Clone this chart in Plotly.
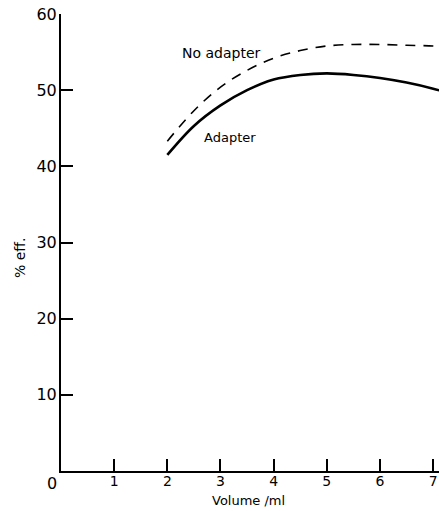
import plotly.graph_objects as go

vol_adapter = [2.0, 2.5, 3.0, 3.5, 4.0, 4.5, 5.0, 5.5, 6.0, 6.5, 7.0, 7.2]
eff_adapter = [41.5, 45.3, 48.0, 50.0, 51.4, 52.0, 52.2, 52.0, 51.6, 51.0, 50.2, 49.8]

vol_no_adapter = [2.0, 2.5, 3.0, 3.5, 4.0, 4.5, 5.0, 5.5, 6.0, 6.5, 7.0, 7.2]
eff_no_adapter = [43.3, 47.3, 50.4, 52.6, 54.2, 55.2, 55.8, 56.0, 56.0, 55.9, 55.8, 55.7]

x_ticks = [1, 2, 3, 4, 5, 6, 7]
y_ticks = [10, 20, 30, 40, 50, 60]

FONT = "DejaVu Sans"

# plot area in pixels: left 61, right 439, top 14, bottom 471
def px(xp):
    return (xp - 61) / 378

def py(yp):
    return (471 - yp) / 457

fig = go.Figure()
fig.add_trace(go.Scatter(x=vol_no_adapter, y=eff_no_adapter, mode="lines",
                         line=dict(color="black", width=1.6, dash="10px,8px", shape="spline"),
                         showlegend=False))
fig.add_trace(go.Scatter(x=vol_adapter, y=eff_adapter, mode="lines",
                         line=dict(color="black", width=2.6, shape="spline"),
                         showlegend=False))

fig.update_layout(
    width=439, height=511,
    margin=dict(l=61, r=0, t=14, b=40),
    paper_bgcolor="white", plot_bgcolor="white",
    font=dict(family=FONT, color="black"),
    xaxis=dict(range=[0, 7.11], tickvals=x_ticks, ticks="inside", ticklen=12, tickwidth=1.5,
               tickcolor="black", showline=True, linecolor="black", linewidth=2,
               showgrid=False, zeroline=False, tickfont=dict(size=14, family=FONT),
               ticklabelstandoff=-4),
    yaxis=dict(range=[0, 60], tickvals=y_ticks, ticks="inside", ticklen=12, tickwidth=1.5,
               tickcolor="black", showline=True, linecolor="black", linewidth=2,
               showgrid=False, zeroline=False, tickfont=dict(size=16, family=FONT),
               ticklabelstandoff=-1),
    annotations=[
        dict(x=0, y=0, xref="x", yref="y", text="0", showarrow=False, xshift=-9, yshift=-12,
             font=dict(size=16, family=FONT)),
        dict(x=px(248), y=py(501), xref="paper", yref="paper", text="Volume /ml",
             xanchor="center", yanchor="middle",
             showarrow=False, font=dict(size=13, family=FONT)),
        dict(x=px(20), y=py(258), xref="paper", yref="paper", text="% eff.", textangle=-90,
             xanchor="center", yanchor="middle",
             showarrow=False, font=dict(size=14, family=FONT)),
        dict(x=(221 - 61) / 53.14, y=(471 - 54) / 7.6, xref="x", yref="y", text="No adapter",
             xanchor="center", yanchor="middle",
             showarrow=False, font=dict(size=14, family=FONT)),
        dict(x=(230 - 61) / 53.14, y=(471 - 138) / 7.6, xref="x", yref="y", text="Adapter",
             xanchor="center", yanchor="middle",
             showarrow=False, font=dict(size=13, family=FONT)),
    ],
)

fig.write_html("out.html")
